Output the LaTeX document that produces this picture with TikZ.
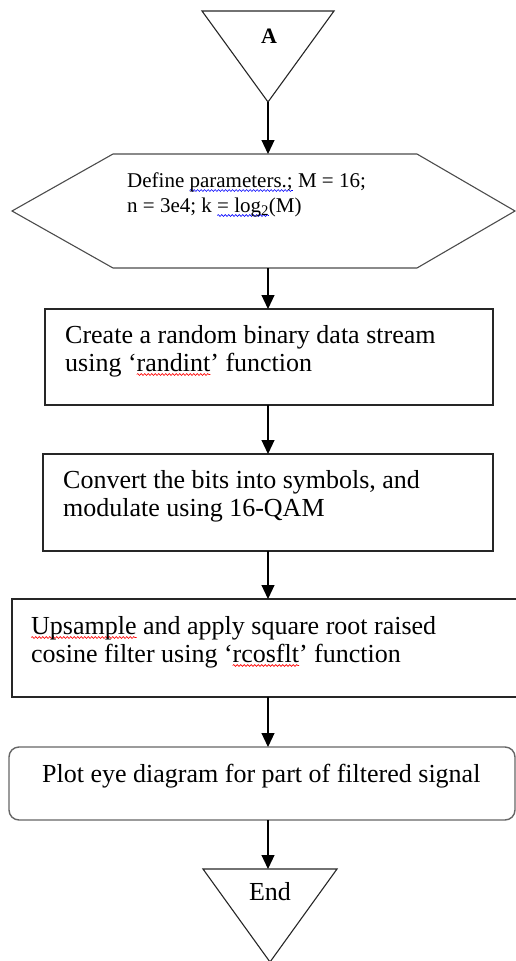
\documentclass[tikz,border=0pt]{standalone}
\usepackage{fontspec}
\setmainfont{Liberation Serif}
\usetikzlibrary{arrows.meta,calc,decorations.pathmorphing}
\newsavebox\wavbox
\newcommand\wav[2]{\sbox\wavbox{#2}\rlap{\tikz[overlay,baseline=0pt]\draw[#1, line width=0.6pt, decorate, decoration={snake, amplitude=0.9pt, segment length=3.5pt}] (0pt,-3.5pt) -- (\wd\wavbox,-3.5pt);}\usebox\wavbox}
\tikzset{
  frame/.style={draw=black!85, line width=1.1pt, inner sep=0pt, outer sep=0pt},
  ghost/.style={inner sep=0pt, outer sep=0pt},
  boxtext/.style={inner sep=0pt, anchor=base west, font=\fontsize{26}{28}\selectfont},
  hextext/.style={inner sep=0pt, anchor=base west, font=\fontsize{21}{24}\selectfont},
  flow/.style={-{Triangle[width=13pt,length=14pt]}, line width=1.1pt, draw=black},
}
\begin{document}
\begin{tikzpicture}[x=1pt, y=-1pt]
\useasboundingbox (0,0) rectangle (516,961);
% start triangle
\node[ghost, minimum width=132, minimum height=91] (A) at (268,56.5) {};
\draw[frame] (A.north west) -- (A.north east) -- (A.south) -- cycle;
\node[inner sep=0pt, anchor=base, font=\bfseries\fontsize{22}{24}\selectfont] (Atext) at (269,43) {A};
% hexagon
\node[ghost, minimum width=503, minimum height=114] (hex) at (263.5,211) {};
\draw[frame, draw=black!70] (hex.west) -- ($(hex.north west)+(101,0)$) -- ($(hex.north east)+(-98,0)$) -- (hex.east)
  -- ($(hex.south east)+(-98,0)$) -- ($(hex.south west)+(101,0)$) -- cycle;
\node[hextext] (h1) at (127,187) {Define \wav{blue}{parameters.;} M = 16;};
\node[hextext] (h2) at (127,212) {n = 3e4; k \wav{blue}{= log\textsubscript{2}}(M)};
% boxes
\node[frame, minimum width=448, minimum height=96] (r1) at (269,357) {};
\node[boxtext] (t1a) at (65,343) {Create a random binary data stream};
\node[boxtext] (t1b) at (65,371) {using ‘\wav{red}{randint}’ function};
\node[frame, minimum width=450, minimum height=97] (r2) at (268,502.5) {};
\node[boxtext] (t2a) at (63,488) {Convert the bits into symbols, and};
\node[boxtext] (t2b) at (63,516) {modulate using 16-QAM};
\node[frame, minimum width=508, minimum height=98] (r3) at (266,648) {};
\node[boxtext] (t3a) at (31,634) {\wav{red}{Upsample} and apply square root raised};
\node[boxtext] (t3b) at (31,662) {cosine filter using ‘\wav{red}{rcosflt}’ function};
\node[frame, draw=black!60, line width=1.4pt, rounded corners=10pt, minimum width=506, minimum height=73] (r4) at (262,783.5) {};
\node[boxtext] (t4) at (42,782) {Plot eye diagram for part of filtered signal};
% end triangle
\node[ghost, minimum width=134, minimum height=93] (E) at (270,915.5) {};
\draw[frame] (E.north west) -- (E.north east) -- (E.south) -- cycle;
\node[inner sep=0pt, anchor=base, font=\fontsize{26}{28}\selectfont] (Etext) at (270,900) {End};
% connectors
\draw[flow] (A.south) -- (A.south |- hex.north);
\draw[flow] (A.south |- hex.south) -- (A.south |- r1.north);
\draw[flow] (A.south |- r1.south) -- (A.south |- r2.north);
\draw[flow] (A.south |- r2.south) -- (A.south |- r3.north);
\draw[flow] (A.south |- r3.south) -- (A.south |- r4.north);
\draw[flow] (A.south |- r4.south) -- (A.south |- E.north);
\end{tikzpicture}
\end{document}
